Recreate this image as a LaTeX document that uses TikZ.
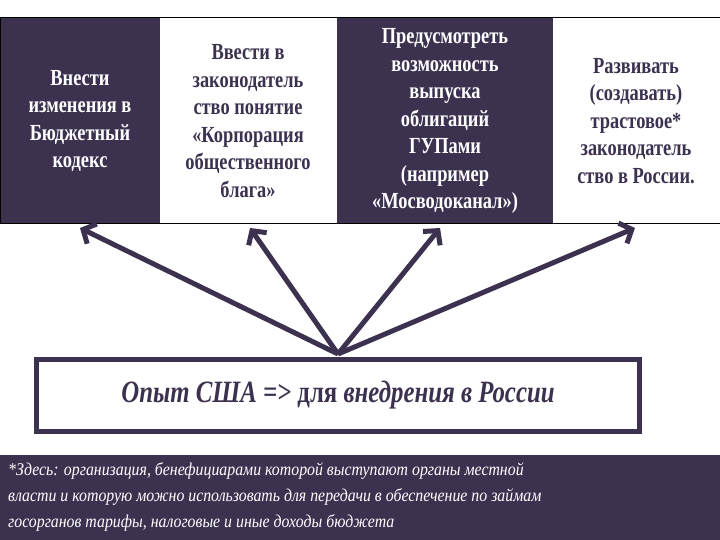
\documentclass[tikz,border=0pt]{standalone}
\usepackage{fontspec}
\usetikzlibrary{arrows.meta}
\setmainfont{Liberation Serif}
\newfontfamily\cond[FakeStretch=0.8]{Liberation Serif}
\newfontfamily\condb[FakeStretch=0.88]{Liberation Serif}
\definecolor{dk}{HTML}{3D3150}
\begin{document}
\begin{tikzpicture}[x=1pt,y=-1pt,
  tb/.style={font=\cond\bfseries\fontsize{23}{27.5}\selectfont,align=center,inner sep=0pt},
  arr/.style={draw=dk,line width=5pt,-{Straight Barb[length=10pt,width=22pt]}}]
\useasboundingbox (0,0) rectangle (720,540);
\fill[white] (0,0) rectangle (720,540);
\fill[dk] (0,18) rectangle (160,224);
\fill[dk] (337,18) rectangle (553,224);
\draw[black,line width=1pt] (0,18) rectangle (720,224);
\node[tb,text=white] (b1) at (80,121) {Внести\\изменения в\\Бюджетный\\кодекс};
\node[tb,text=dk] (b2) at (248,121) {Ввести в\\законодатель\\ство понятие\\«Корпорация\\общественного\\блага»};
\node[tb,text=white] (b3) at (445,121) {Предусмотреть\\возможность\\выпуска\\облигаций\\ГУПами\\(например\\«Мосводоканал»)};
\node[tb,text=dk] (b4) at (636,121) {Развивать\\(создавать)\\трастовое*\\законодатель\\ство в России.};
\coordinate (t1) at (80,228);
\coordinate (t2) at (250,228);
\coordinate (t3) at (440,228);
\coordinate (t4) at (635,228);
\node[draw=dk,line width=5pt,minimum width=603pt,minimum height=72pt,inner sep=0pt,
  font=\cond\fontsize{31}{34}\selectfont,text=dk] (us) at (338,395)
  {\textit{\textbf{Опыт США =>}} \textbf{для} \textit{\textbf{внедрения в России}}};
\coordinate (o) at (338,354);
\foreach \t in {t1,t2,t3,t4} \draw[arr] (o) -- (\t);
\fill[dk] (0,455) rectangle (720,540);
\node[text=white,font=\condb\itshape\fontsize{18}{26}\selectfont,align=left,anchor=north west,inner sep=0pt] (fn) at (8,462)
{*Здесь: организация, бенефициарами которой выступают органы местной\\власти и которую можно использовать для передачи в обеспечение по займам\\госорганов тарифы, налоговые и иные доходы бюджета};
\end{tikzpicture}
\end{document}
